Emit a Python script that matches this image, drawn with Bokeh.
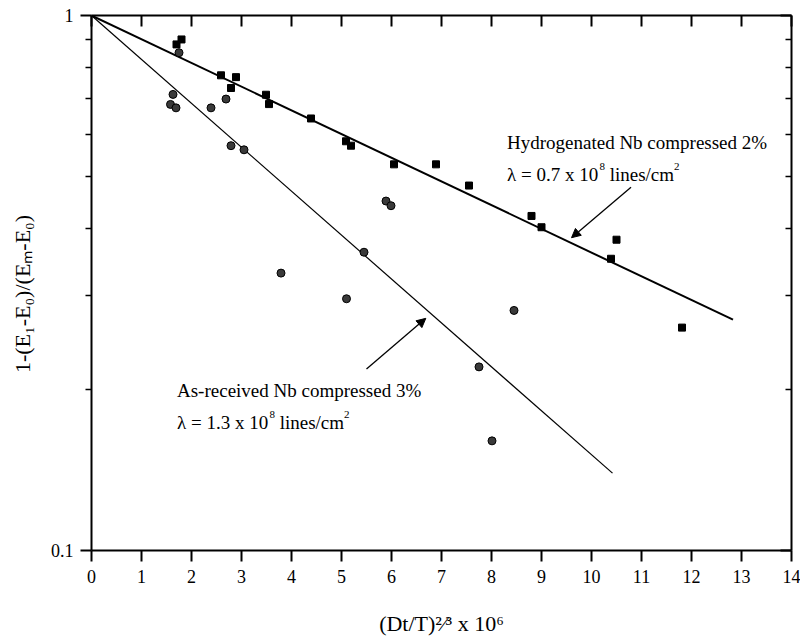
import math
from bokeh.plotting import figure
from bokeh.models import (Range1d, FixedTicker, LinearAxis, LogAxis, Label, Arrow,
                          NormalHead, CustomJSTickFormatter)
from bokeh.embed import file_html
from bokeh.resources import INLINE

# ---------------- data ----------------
# Hydrogenated Nb compressed 2% (squares)
h_x = [1.70, 1.80, 2.59, 2.79, 2.89, 3.49, 3.55, 4.39, 5.09, 5.19, 6.05, 6.89,
       7.55, 8.80, 9.00, 10.39, 10.50, 11.81]
h_y = [0.883, 0.902, 0.773, 0.732, 0.767, 0.711, 0.683, 0.642, 0.582, 0.571, 0.527, 0.527,
       0.481, 0.422, 0.402, 0.351, 0.381, 0.261]
# As-received Nb compressed 3% (circles)
r_x = [1.58, 1.63, 1.69, 1.75, 2.39, 2.69, 2.79, 3.05, 3.79, 5.10, 5.45, 5.89,
       5.99, 7.75, 8.01, 8.45]
r_y = [0.682, 0.712, 0.672, 0.852, 0.672, 0.698, 0.571, 0.561, 0.330, 0.2955, 0.361, 0.450,
       0.441, 0.2204, 0.1603, 0.281]
# fitted lines (end points)
fit_h_x = [0.0, 12.83]
fit_h_y = [1.0, 0.270]
fit_r_x = [0.0, 10.42]
fit_r_y = [1.0, 0.1395]
# ticks and titles
x_ticks = list(range(0, 15))
y_major = [0.1, 1.0]
y_minor = [0.2, 0.3, 0.4, 0.5, 0.6, 0.7, 0.8, 0.9]
x_title = "(Dt/T)\u00b2\u2044\u00b3 x 10\u2076"
y_title = "1-(E\u2081-E\u2080)/(E\u2098-E\u2080)\u00a0\u00a0\u00a0\u00a0"

FONT = "Liberation Serif"

p = figure(width=800, height=638, y_axis_type="log",
           x_range=Range1d(0, 14), y_range=Range1d(0.1, 1),
           output_backend="svg", toolbar_location=None,
           min_border_left=91, min_border_right=9, min_border_top=15, min_border_bottom=86)
p.grid.visible = False
p.outline_line_color = None
p.background_fill_color = "white"
p.border_fill_color = "white"


def style_axis(ax):
    ax.axis_line_color = "black"
    ax.axis_line_width = 2
    ax.major_tick_line_color = "black"
    ax.major_tick_line_width = 2
    ax.minor_tick_line_color = "black"
    ax.minor_tick_line_width = 1.5
    ax.major_label_text_font = FONT
    ax.major_label_text_font_size = "18px"
    ax.major_label_text_color = "black"
    ax.axis_label_text_font = FONT
    ax.axis_label_text_font_size = "22px"
    ax.axis_label_text_font_style = "normal"
    ax.axis_label_text_color = "black"


xa = p.xaxis[0]
xa.ticker = FixedTicker(ticks=x_ticks, minor_ticks=[])
style_axis(xa)
xa.major_tick_in = 0
xa.major_tick_out = 11
xa.minor_tick_in = 0
xa.minor_tick_out = 0
xa.major_label_standoff = 8
xa.axis_label = x_title
xa.axis_label_standoff = 25

ya = p.yaxis[0]
ya.ticker = FixedTicker(ticks=y_major, minor_ticks=y_minor)
ya.formatter = CustomJSTickFormatter(code="return String(tick)")
style_axis(ya)
ya.major_tick_in = 0
ya.major_tick_out = 11
ya.minor_tick_in = 0
ya.minor_tick_out = 6
ya.major_label_standoff = 7
ya.axis_label = y_title
ya.axis_label_standoff = 13

top = LinearAxis(ticker=FixedTicker(ticks=x_ticks, minor_ticks=[]),
                 formatter=CustomJSTickFormatter(code="return ''"))
style_axis(top)
top.major_tick_in = 11
top.major_tick_out = 0
top.minor_tick_in = 0
top.minor_tick_out = 0
top.major_label_standoff = 0
top.major_label_text_font_size = "0px"
p.add_layout(top, "above")

right = LogAxis(ticker=FixedTicker(ticks=y_major, minor_ticks=y_minor),
                formatter=CustomJSTickFormatter(code="return ''"))
style_axis(right)
right.major_tick_in = 11
right.major_tick_out = 0
right.minor_tick_in = 6
right.minor_tick_out = 0
right.major_label_standoff = 0
right.major_label_text_font_size = "0px"
p.add_layout(right, "right")

# ---------------- glyphs ----------------
p.line(fit_h_x, fit_h_y, line_color="black", line_width=2)
p.line(fit_r_x, fit_r_y, line_color="black", line_width=1.2)
p.scatter(h_x, h_y, marker="square", size=7, fill_color="black", line_color="black")
p.scatter(r_x, r_y, marker="circle", size=8, fill_color="#3a3a3a", line_color="black",
          line_width=1)

# ---------------- rich text helper (annotations inside the frame) ----------------
TW = {' ': 250, '%': 833, '(': 333, ')': 333, '-': 333, '.': 250, '/': 278, '=': 564,
      'A': 722, 'D': 722, 'E': 611, 'H': 722, 'N': 722, 'T': 611, 'a': 444, 'b': 500,
      'c': 444, 'd': 500, 'e': 444, 'g': 500, 'i': 278, 'l': 278, 'm': 778, 'n': 500,
      'o': 500, 'p': 500, 'r': 333, 's': 389, 't': 278, 'v': 500, 'x': 500, 'y': 500,
      'λ': 549}


def tw(s, size):
    return sum(TW.get(c, 500) for c in s) * size / 1000.0


def rich(x, y, segs):
    adv = 0.0
    for text, size, shift in segs:
        body = text.lstrip(" ")
        adv += tw(text[:len(text) - len(body)], size)
        p.add_layout(Label(x=x, y=y, x_offset=adv, y_offset=shift, text=body,
                           text_font=FONT, text_font_size=f"{size}px", text_color="black",
                           text_baseline="alphabetic", text_align="left"))
        adv += tw(body, size)


rich(8.31, 0.578, [("Hydrogenated Nb compressed 2%", 19, 0)])
rich(8.31, 0.5035, [("λ = 0.7 x 10", 19, 0), ("8", 11, 8), (" lines/cm", 19, 0), ("2", 11, 8)])
rich(1.71, 0.1988, [("As-received Nb compressed 3%", 19, 0)])
rich(1.71, 0.1737, [("λ = 1.3 x 10", 19, 0), ("8", 11, 8), (" lines/cm", 19, 0), ("2", 11, 8)])

p.add_layout(Arrow(x_start=10.79, y_start=0.4776, x_end=9.60, y_end=0.3843,
                   line_color="black", line_width=1.3,
                   end=NormalHead(size=9, fill_color="black", line_color="black", line_width=1)))
p.add_layout(Arrow(x_start=5.50, y_start=0.2183, x_end=6.686, y_end=0.2716,
                   line_color="black", line_width=1.3,
                   end=NormalHead(size=9, fill_color="black", line_color="black", line_width=1)))

open("out.html", "w").write(file_html(p, INLINE))
